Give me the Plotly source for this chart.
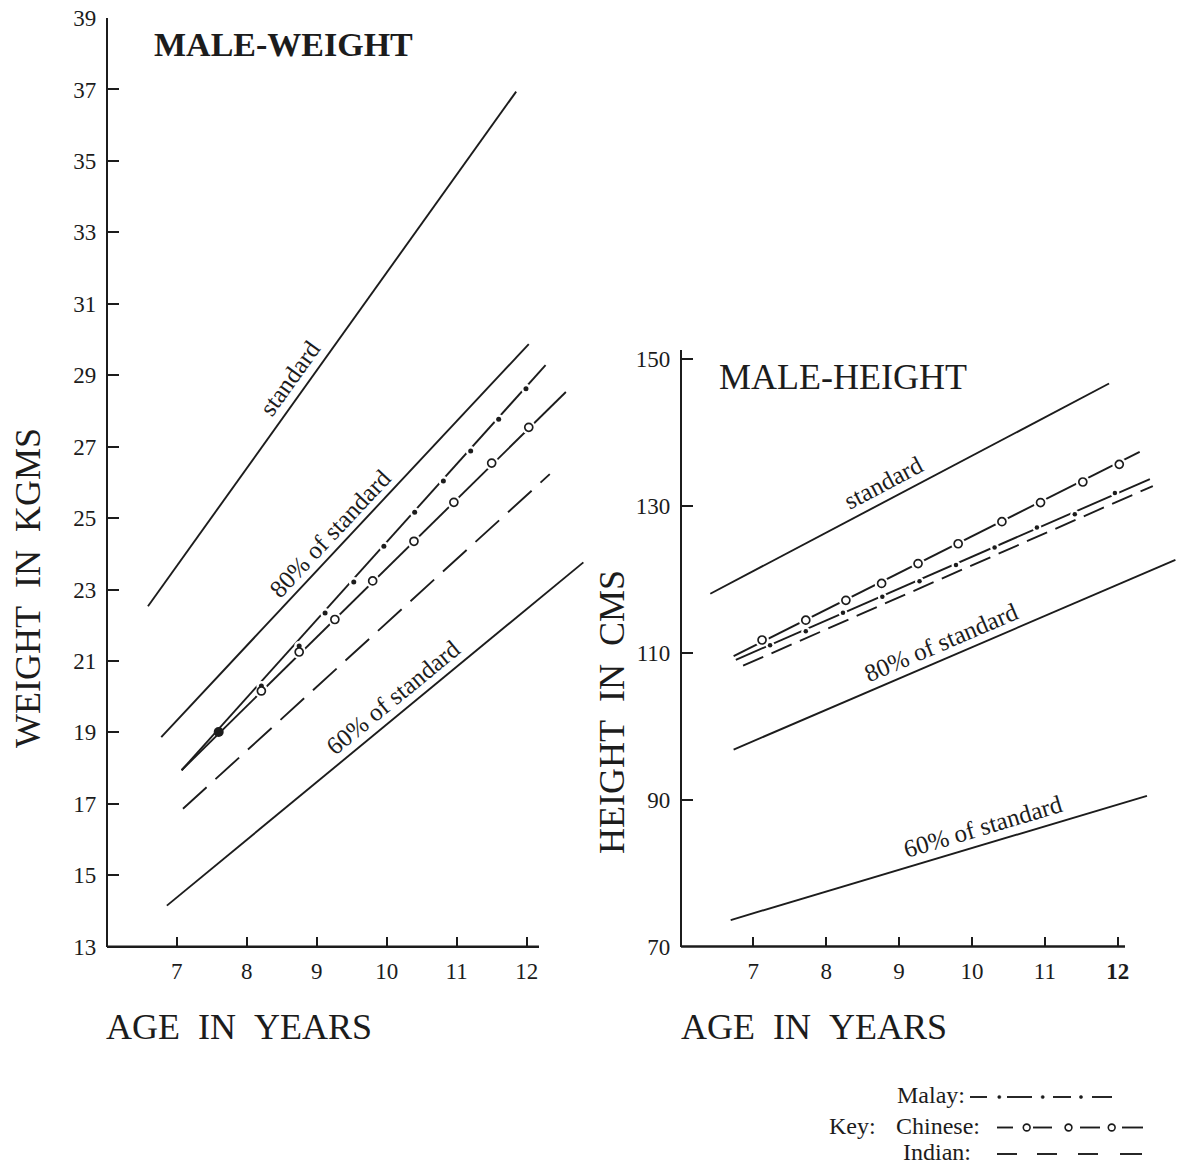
import plotly.graph_objects as go

W, H = 1182, 1166
INK = "#1c1c1c"
SERIF = "Liberation Serif, Times New Roman, serif"

# ---------------- DATA ----------------
age_ticks = [7, 8, 9, 10, 11, 12]
weight_ticks = [13, 15, 17, 19, 21, 23, 25, 27, 29, 31, 33, 35, 37, 39]
height_ticks = [70, 90, 110, 130, 150]

# MALE - WEIGHT (kg) by age (years)
w_std_age = [6.59, 11.85];      w_std = [22.53, 36.94]
w_80_age = [6.78, 12.03];       w_80 = [18.87, 29.87]
w_60_age = [6.86, 12.81];       w_60 = [14.15, 23.76]
w_malay_age = [7.07, 12.27];    w_malay = [17.94, 29.28]
w_chinese_age = [7.07, 12.56];  w_chinese = [17.94, 28.53]
w_indian_age = [7.09, 12.33];   w_indian = [16.86, 26.23]
w_malay_pt_age = [8.21, 8.75, 9.12, 9.53, 9.96, 10.40, 10.81, 11.20, 11.60, 11.99]
w_malay_pt = [20.30, 21.42, 22.34, 23.21, 24.21, 25.16, 26.04, 26.88, 27.77, 28.62]
w_chinese_pt_age = [8.21, 8.75, 9.26, 9.80, 10.39, 10.96, 11.50, 12.03]
w_chinese_pt = [20.16, 21.25, 22.16, 23.24, 24.35, 25.44, 26.54, 27.54]
w_joint_pt_age = [7.60];        w_joint_pt = [19.01]

# MALE - HEIGHT (cm) by age (years)
h_std_age = [6.41, 11.88];      h_std = [118.0, 146.6]
h_80_age = [6.73, 12.79];       h_80 = [96.8, 122.6]
h_60_age = [6.69, 12.40];       h_60 = [73.6, 90.5]
h_chinese_age = [6.73, 12.30];  h_chinese = [109.5, 137.3]
h_malay_age = [6.76, 12.44];    h_malay = [109.0, 133.6]
h_indian_age = [6.86, 12.48];   h_indian = [108.2, 132.65]
h_chinese_pt_age = [7.12, 7.72, 8.27, 8.76, 9.26, 9.81, 10.41, 10.94, 11.52, 12.02]
h_chinese_pt = [111.7, 114.4, 117.1, 119.4, 122.1, 124.8, 127.8, 130.4, 133.2, 135.6]
h_malay_pt_age = [7.23, 7.72, 8.23, 8.77, 9.28, 9.78, 10.31, 10.89, 11.41, 11.96]
h_malay_pt = [111.0, 112.9, 115.4, 117.6, 119.7, 121.9, 124.3, 127.0, 128.8, 131.7]

# ---------------- HELPERS ----------------
def fx(p):
    return p / W

def fy(p):
    return 1 - p / H

fig = go.Figure()

LW = 1.9

def line(x, y, xa, ya, dash="solid", width=LW):
    fig.add_trace(go.Scatter(x=x, y=y, mode="lines", xaxis=xa, yaxis=ya,
                             line=dict(color=INK, width=width, dash=dash),
                             hoverinfo="skip", showlegend=False))

def marks(x, y, xa, ya, size, color, symbol="circle", lw=0, lc=INK):
    fig.add_trace(go.Scatter(x=x, y=y, mode="markers", xaxis=xa, yaxis=ya,
                             marker=dict(size=size, color=color, symbol=symbol,
                                         line=dict(width=lw, color=lc)),
                             hoverinfo="skip", showlegend=False, cliponaxis=False))

# ---- left panel (weight)
line(w_std_age, w_std, "x", "y")
line(w_80_age, w_80, "x", "y")
line(w_60_age, w_60, "x", "y")
line(w_chinese_age, w_chinese, "x", "y")
marks(w_chinese_pt_age, w_chinese_pt, "x", "y", 14, "white")
line(w_malay_age, w_malay, "x", "y")
marks(w_malay_pt_age, w_malay_pt, "x", "y", 10, "white")
line(w_indian_age, w_indian, "x", "y", dash="32px,12px")
marks(w_malay_pt_age, w_malay_pt, "x", "y", 5, INK)
marks(w_chinese_pt_age, w_chinese_pt, "x", "y", 8, "white", lw=1.7)
marks(w_joint_pt_age, w_joint_pt, "x", "y", 10, INK)

# ---- right panel (height)
line(h_std_age, h_std, "x2", "y2")
line(h_80_age, h_80, "x2", "y2")
line(h_60_age, h_60, "x2", "y2")
line(h_chinese_age, h_chinese, "x2", "y2")
marks(h_chinese_pt_age, h_chinese_pt, "x2", "y2", 14, "white")
line(h_malay_age, h_malay, "x2", "y2")
marks(h_malay_pt_age, h_malay_pt, "x2", "y2", 9, "white")
line(h_indian_age, h_indian, "x2", "y2", dash="22px,9px")
marks(h_malay_pt_age, h_malay_pt, "x2", "y2", 4.5, INK)
marks(h_chinese_pt_age, h_chinese_pt, "x2", "y2", 8, "white", lw=1.7)

tickfont = dict(family=SERIF, size=23, color=INK)

common_x = dict(showgrid=False, zeroline=False, showline=False, ticks="inside",
                ticklen=10, tickwidth=1.6, tickcolor=INK, tickfont=tickfont,
                tickvals=age_ticks, ticklabelstandoff=8, fixedrange=True,
                automargin=False)
common_y = dict(showgrid=False, zeroline=False, showline=True, linewidth=2.2,
                linecolor=INK, ticks="inside", ticklen=11, tickwidth=1.6,
                tickcolor=INK, tickfont=tickfont, ticklabelstandoff=5,
                fixedrange=True, automargin=False)

fig.update_layout(
    template="none",
    width=W, height=H,
    margin=dict(l=0, r=0, t=0, b=0, pad=0, autoexpand=False),
    paper_bgcolor="white", plot_bgcolor="rgba(0,0,0,0)",
    showlegend=False,
    xaxis=dict(domain=[fx(108), fx(598)], range=[6.019, 13.019], anchor="y",
               ticktext=[str(v) for v in age_ticks], **common_x),
    yaxis=dict(domain=[fy(946.7), fy(18)], range=[13, 39], anchor="x",
               tickvals=weight_ticks, **common_y),
    xaxis2=dict(domain=[fx(682), fx(1180)], range=[6.022, 12.853], anchor="y2",
                ticktext=[str(v) if v != 12 else "<b>12</b>" for v in age_ticks],
                **common_x),
    yaxis2=dict(domain=[fy(946.5), fy(350)], range=[70, 151.16], anchor="x2",
                tickvals=height_ticks, **common_y),
)

shapes = []
# x-axis base lines (shorter than the plotting area, as in the original)
shapes.append(dict(type="line", xref="paper", yref="paper", x0=fx(107), x1=fx(539),
                   y0=fy(946.7), y1=fy(946.7), line=dict(color=INK, width=2.6)))
shapes.append(dict(type="line", xref="paper", yref="paper", x0=fx(681), x1=fx(1125),
                   y0=fy(946.5), y1=fy(946.5), line=dict(color=INK, width=2.4)))

# ---- key (legend) glyphs, in pixel layout positions
def seg(x0, x1, y, w=1.9):
    shapes.append(dict(type="line", xref="paper", yref="paper", x0=fx(x0), x1=fx(x1),
                       y0=fy(y), y1=fy(y), line=dict(color=INK, width=w)))

def circ(cx, cy, r, fill, w=1.6):
    shapes.append(dict(type="circle", xref="paper", yref="paper",
                       x0=fx(cx - r), x1=fx(cx + r), y0=fy(cy + r), y1=fy(cy - r),
                       fillcolor=fill, line=dict(color=INK, width=w)))

key_malay_y, key_chinese_y, key_indian_y = 1097, 1127.5, 1154
for a, b in [(970, 987), (1007, 1032), (1053, 1071), (1092, 1112)]:
    seg(a, b, key_malay_y)
for cx in [999.3, 1042.7, 1081]:
    circ(cx, key_malay_y, 1.6, INK, 0.5)
for a, b in [(997, 1013), (1033, 1052), (1080, 1100), (1122, 1143)]:
    seg(a, b, key_chinese_y)
for cx in [1026.7, 1068.5, 1111.7]:
    circ(cx, key_chinese_y, 3.4, "white")
for a, b in [(997, 1017), (1037, 1057), (1078, 1098), (1120, 1142)]:
    seg(a, b, key_indian_y)

fig.update_layout(shapes=shapes)

# ---------------- TEXT ----------------
ann = []

def text(t, x, y, size, angle=0, bold=False, xref="paper", yref="paper",
         xanchor="center", yanchor="middle"):
    if bold:
        t = "<b>" + t + "</b>"
    if xref == "paper":
        x = fx(x)
    if yref == "paper":
        y = fy(y)
    ann.append(dict(text=t, x=x, y=y, xref=xref, yref=yref, showarrow=False,
                    textangle=angle, xanchor=xanchor, yanchor=yanchor,
                    font=dict(family=SERIF, size=size, color=INK)))

NB = "\u00a0"
text("MALE-WEIGHT", 283, 45, 34, bold=True)
text("MALE-HEIGHT", 843, 377, 36)
text("WEIGHT" + NB * 2 + "IN" + NB * 2 + "KGMS", 28, 588, 36, angle=-90)
text("HEIGHT" + NB * 2 + "IN" + NB * 2 + "CMS", 612, 712, 36, angle=-90)
text("AGE" + NB * 2 + "IN" + NB * 2 + "YEARS", 239, 1027, 36)
text("AGE" + NB * 2 + "IN" + NB * 2 + "YEARS", 814, 1027, 36)

# curve labels (placed along the lines)
text("standard", 8.61, 28.92, 25, angle=-54.3, xref="x", yref="y")
text("80% of standard", 9.19, 24.57, 25, angle=-46.9, xref="x", yref="y")
text("60% of standard", 10.09, 19.98, 25, angle=-39.4, xref="x", yref="y")
text("standard", 8.79, 133.1, 25, angle=-27.9, xref="x2", yref="y2")
text("80% of standard", 9.575, 111.4, 25, angle=-23.2, xref="x2", yref="y2")
text("60% of standard", 10.15, 86.26, 25, angle=-16.6, xref="x2", yref="y2")

# key text
text("Malay:", 967, key_malay_y - 2, 24, xanchor="right")
text("Key:", 827, key_chinese_y - 2, 24, xanchor="left")
text("Chinese:", 982, key_chinese_y - 2, 24, xanchor="right")
text("Indian:", 973, key_indian_y - 2, 24, xanchor="right")

fig.update_layout(annotations=ann)

fig.write_html("out.html", config={"displayModeBar": False},
               post_script="document.body.style.margin='0';")
